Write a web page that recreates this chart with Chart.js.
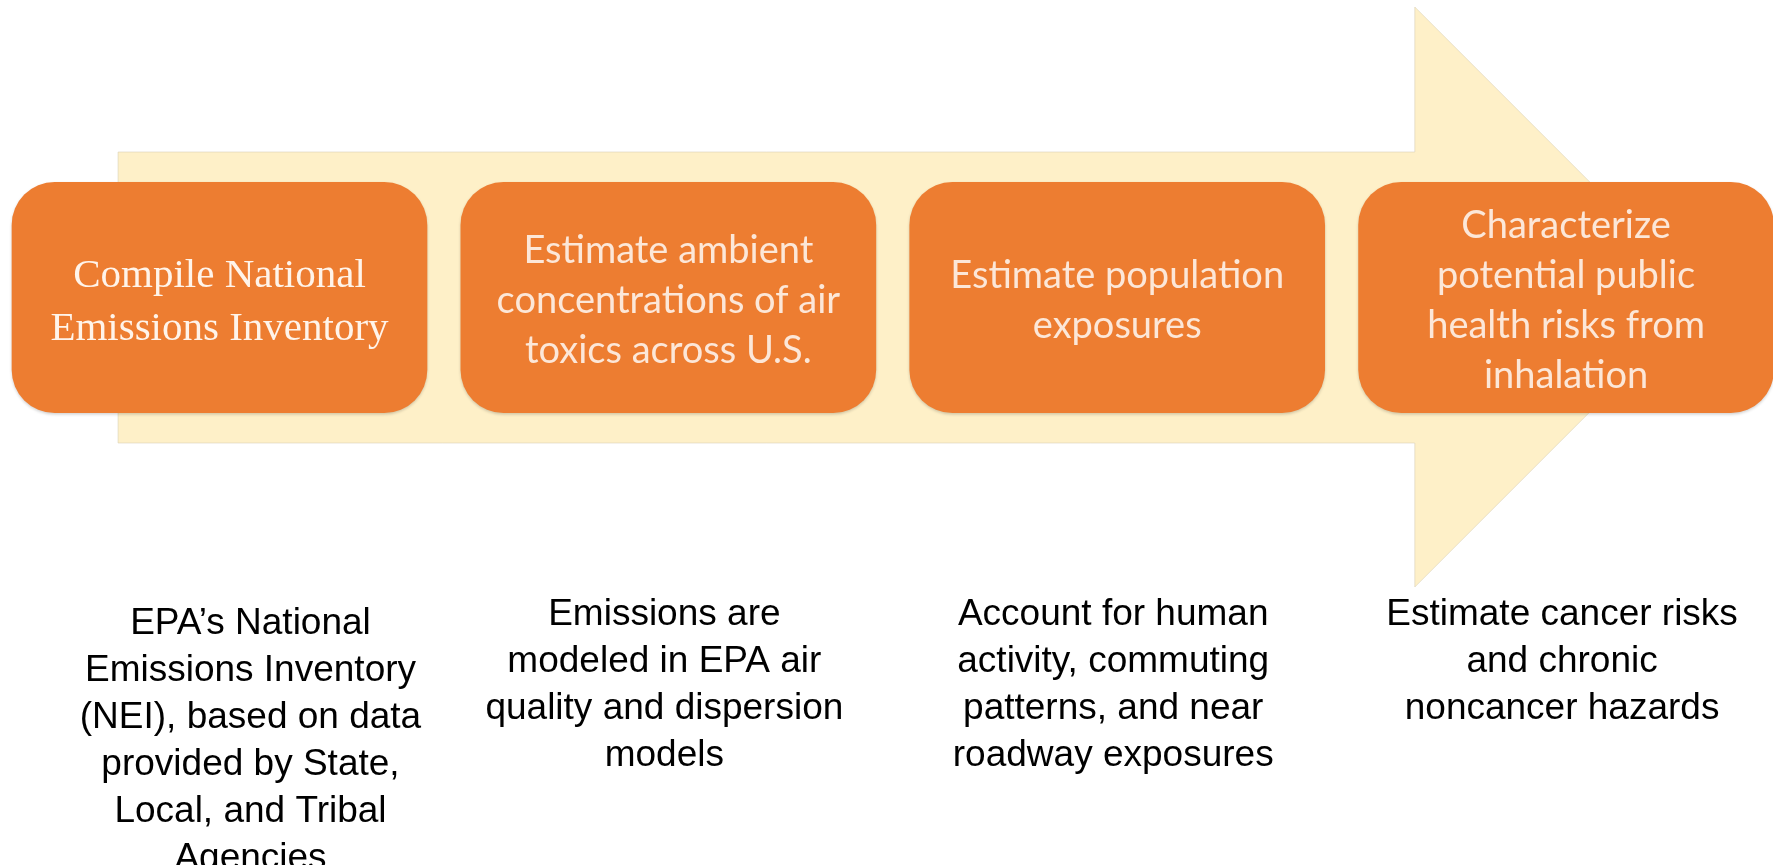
<!DOCTYPE html>
<html>
<head>
<meta charset="utf-8">
<title>Air toxics assessment steps</title>
<script src="https://cdn.jsdelivr.net/npm/chart.js@4.4.0/dist/chart.umd.min.js"></script>
<style>
  html, body { margin: 0; padding: 0; background: #ffffff; }
  #wrap { width: 1773px; height: 865px; }
</style>
</head>
<body>
<div id="wrap"><canvas id="flowChart"></canvas></div>
<script>
// steps along the arrow (x value = step index)
var steps = [0, 1, 2, 3];
var stepTitles = [
    ['Compile National', 'Emissions Inventory'],
    ['Estimate ambient', 'concentrations of air', 'toxics across U.S.'],
    ['Estimate population', 'exposures'],
    ['Characterize', 'potential public', 'health risks from', 'inhalation']
];
var stepNotes = [
    ['EPA\u2019s National', 'Emissions Inventory', '(NEI), based on data', 'provided by State,', 'Local, and Tribal', 'Agencies'],
    ['Emissions are', 'modeled in EPA air', 'quality and dispersion', 'models'],
    ['Account for human', 'activity, commuting', 'patterns, and near', 'roadway exposures'],
    ['Estimate cancer risks', 'and chronic', 'noncancer hazards']
];
// each box spans this range of the vertical scale
var boxRange = [182, 413];
// outline of the background arrow (x in steps, y on the vertical scale)
var arrowX = [-0.226, 2.663, 2.663, 3.309, 2.663, 2.663, -0.226, -0.226];
var arrowY = [152, 152, 7, 297, 587, 443, 443, 152];

document.addEventListener("DOMContentLoaded", function () {
    var canvas = document.getElementById('flowChart');

    // box and note labels, placed from the scales
    var labelPlugin = {
        id: 'stepLabels',
        afterDatasetsDraw: function (chart) {
            var ctx = chart.ctx;
            var xs = chart.scales.x;
            var ys = chart.scales.y;
            var midY = (ys.getPixelForValue(boxRange[0]) + ys.getPixelForValue(boxRange[1])) / 2;
            ctx.save();
            ctx.textAlign = 'center';
            ctx.textBaseline = 'alphabetic';

            steps.forEach(function (s, i) {
                var cx = xs.getPixelForValue(s);
                var lines = stepTitles[i];
                var size, lh, face, color, rise;
                if (i === 0) {
                    size = 41; lh = 53; face = '"Liberation Serif", "Times New Roman", serif';
                    color = '#FFF4EA'; rise = 0.33;
                } else {
                    size = 38; lh = 50; face = 'Lato, "Open Sans", sans-serif';
                    color = '#FCE7D8'; rise = 0.36;
                }
                ctx.font = size + 'px ' + face;
                ctx.fillStyle = color;
                lines.forEach(function (t, k) {
                    var y = midY + 2 + (k - (lines.length - 1) / 2) * lh;
                    ctx.fillText(t, cx, y + rise * size);
                });

                // description under the arrow
                var notes = stepNotes[i];
                var nx = cx + (i === 0 ? 31 : -4);
                var ny = ys.getPixelForValue(i === 0 ? 634 : 625);
                ctx.font = '37px "Liberation Sans", Arial, sans-serif';
                ctx.fillStyle = '#000000';
                notes.forEach(function (t, k) {
                    ctx.fillText(t, nx, ny + k * 47);
                });
            });
            ctx.restore();
        }
    };

    // soft shadow under the boxes
    var shadowPlugin = {
        id: 'boxShadow',
        beforeDatasetDraw: function (chart, args) {
            if (args.meta.type === 'bar') {
                chart.ctx.save();
                chart.ctx.shadowColor = 'rgba(0,0,0,0.18)';
                chart.ctx.shadowBlur = 3;
                chart.ctx.shadowOffsetY = 1.5;
            }
        },
        afterDatasetDraw: function (chart, args) {
            if (args.meta.type === 'bar') chart.ctx.restore();
        }
    };

    new Chart(canvas, {
        type: 'bar',
        data: {
            datasets: [
                {
                    type: 'line',
                    label: 'Arrow',
                    data: arrowX.map(function (x, i) { return { x: x, y: arrowY[i] }; }),
                    backgroundColor: '#FEF0C8',
                    borderColor: 'rgba(215,205,180,0.55)',
                    borderWidth: 1,
                    fill: 'shape',
                    pointRadius: 0,
                    tension: 0,
                    order: 1
                },
                {
                    label: 'Steps',
                    data: steps.map(function (s) { return { x: s, y: boxRange }; }),
                    backgroundColor: '#ED7D31',
                    borderWidth: 0,
                    borderSkipped: false,
                    borderRadius: { topLeft: 43, topRight: 43, bottomLeft: 43, bottomRight: 43 },
                    barPercentage: 1,
                    categoryPercentage: 0.926,
                    order: 0
                }
            ]
        },
        options: {
            responsive: true,
            maintainAspectRatio: false,
            animation: false,
            events: [],
            layout: { padding: 0 },
            plugins: {
                legend: { display: false },
                tooltip: { enabled: false }
            },
            scales: {
                x: {
                    type: 'linear',
                    min: -0.489,
                    max: 3.461,
                    offset: false,
                    display: false,
                    afterBuildTicks: function (scale) {
                        scale.ticks = steps.map(function (s) { return { value: s }; });
                    }
                },
                y: {
                    type: 'linear',
                    min: 0,
                    max: 865,
                    reverse: true,
                    offset: false,
                    display: false
                }
            }
        },
        plugins: [shadowPlugin, labelPlugin]
    });
});
</script>
</body>
</html>
